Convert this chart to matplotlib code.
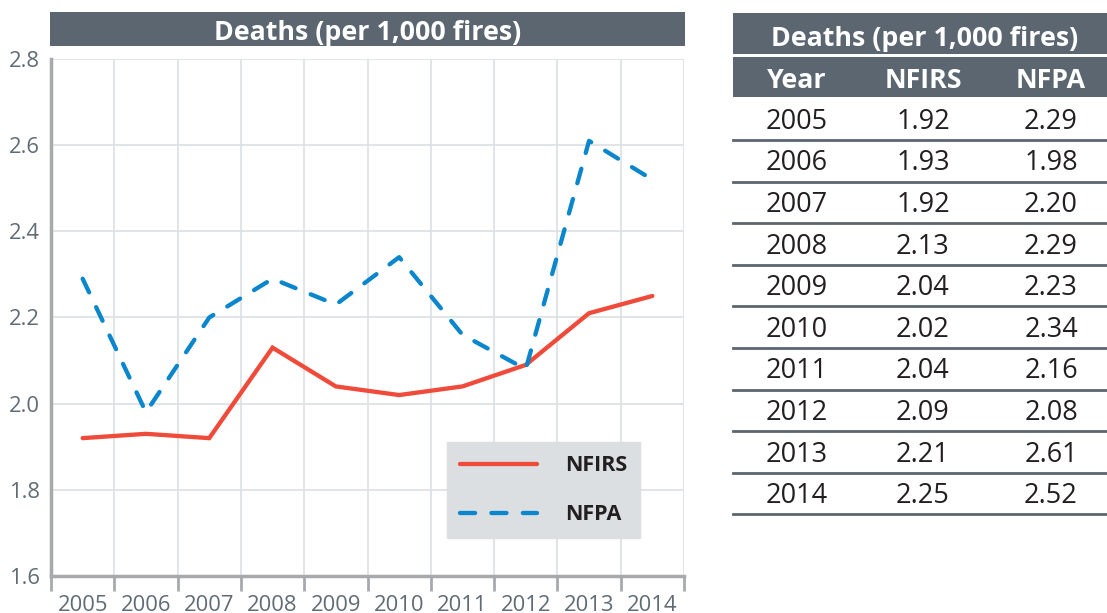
import matplotlib
matplotlib.use("Agg")
import matplotlib.pyplot as plt
from matplotlib.patches import Rectangle
from matplotlib.lines import Line2D

years = ["2005", "2006", "2007", "2008", "2009", "2010", "2011", "2012", "2013", "2014"]
nfirs = [1.92, 1.93, 1.92, 2.13, 2.04, 2.02, 2.04, 2.09, 2.21, 2.25]
nfpa = [2.29, 1.98, 2.20, 2.29, 2.23, 2.34, 2.16, 2.08, 2.61, 2.52]
title = "Deaths (per 1,000 fires)"
yticks = [1.6, 1.8, 2.0, 2.2, 2.4, 2.6, 2.8]
headers = ["Year", "NFIRS", "NFPA"]

plt.rcParams['font.family'] = ['Open Sans', 'DejaVu Sans']

W, H = 1107, 613
fig = plt.figure(figsize=(W / 100, H / 100), dpi=100)

def fx(px):
    return px / W

def fy(py):
    return 1 - py / H

DARK = "#5b6670"
RED = "#f04b3a"
BLUE = "#0a86cc"
GRID = "#dde0e4"
TICKC = "#5f6b75"
SPINE = "#a7a9ac"

def text_mid(x_px, cy_px, s, size, **kw):
    # place text so the cap-height midline sits at cy_px
    base = cy_px + 0.357 * size * 100 / 72
    fig.text(fx(x_px), fy(base), s, ha='center', va='baseline', fontsize=size, **kw)

# chart axes
x0, x1, ytop, ybot = 51, 684, 59, 576
ax = fig.add_axes([fx(x0), fy(ybot), fx(x1) - fx(x0), (ybot - ytop) / H])
xs = list(range(len(years)))
ax.plot(xs, nfirs, color=RED, lw=3.1, solid_capstyle='round', solid_joinstyle='miter', zorder=3, label="NFIRS")
ax.plot(xs, nfpa, color=BLUE, lw=3.1, dashes=(3.5, 3.8), dash_capstyle='round', zorder=3, label="NFPA")
ax.set_xlim(-0.5, len(years) - 0.5)
ax.set_ylim(1.6, 2.8)
ax.set_yticks(yticks)
ax.set_yticklabels([f"{v:.1f}" for v in yticks])
ax.set_xticks([i - 0.5 for i in range(len(years) + 1)])
ax.set_xticklabels([])
ax.set_xticks(xs, minor=True)
ax.set_xticklabels(years, minor=True)
ax.tick_params(axis='x', which='minor', length=0, pad=14, labelsize=15.8, labelcolor=TICKC)
ax.tick_params(axis='x', which='major', length=11, width=2, color=SPINE)
ax.tick_params(axis='y', length=0, pad=8, labelsize=15.8, labelcolor=TICKC)
ax.grid(True, which='major', color=GRID, lw=1.2)
ax.set_axisbelow(True)
for s in ['top', 'right']:
    ax.spines[s].set_visible(False)
for s in ['left', 'bottom']:
    ax.spines[s].set_color(SPINE)
    ax.spines[s].set_linewidth(2.5)

# legend box
leg = ax.legend(loc='lower right', bbox_to_anchor=((640 - x0) / (x1 - x0), (ybot - 538) / (ybot - ytop)),
                frameon=True, fancybox=False, facecolor="#dcdfe2", edgecolor="#dcdfe2", framealpha=1,
                handlelength=3.58, handletextpad=1.3, labelspacing=1.3, borderpad=0.6, borderaxespad=0,
                prop={'weight': 'bold', 'size': 15.5})
for t in leg.get_texts():
    t.set_color("#231f20")

# chart title bar
fig.patches.append(Rectangle((fx(50), fy(46)), fx(685) - fx(50), 34 / H, transform=fig.transFigure,
                             facecolor=DARK, edgecolor='none'))
text_mid(368, 30, title, 19.3, color='white', fontweight='bold')

# table
tx0, tx1 = 733, 1107
fig.patches.append(Rectangle((fx(tx0), fy(54)), fx(tx1) - fx(tx0), 41 / H, transform=fig.transFigure,
                             facecolor=DARK, edgecolor='none'))
fig.patches.append(Rectangle((fx(tx0), fy(97)), fx(tx1) - fx(tx0), 40 / H, transform=fig.transFigure,
                             facecolor=DARK, edgecolor='none'))
text_mid(925, 36.5, title, 19.3, color='white', fontweight='bold')
cols = [797, 923, 1051]
for cx, h in zip(cols, headers):
    text_mid(cx, 78.5, h, 19.3, color='white', fontweight='bold')
row_h = 41.6
row0 = 98.4
for i, (yr, a, b) in enumerate(zip(years, nfirs, nfpa)):
    cy = row0 + row_h * (i + 0.5)
    for cx, val in zip(cols, [yr, f"{a:.2f}", f"{b:.2f}"]):
        text_mid(cx, cy, val, 19.5, color='#231f20')
    ly = row0 + row_h * (i + 1)
    fig.lines.append(Line2D([fx(tx0), fx(tx1)], [fy(ly), fy(ly)], transform=fig.transFigure,
                            color=DARK, lw=2))

fig.savefig("out.png", dpi=100, facecolor='white')
